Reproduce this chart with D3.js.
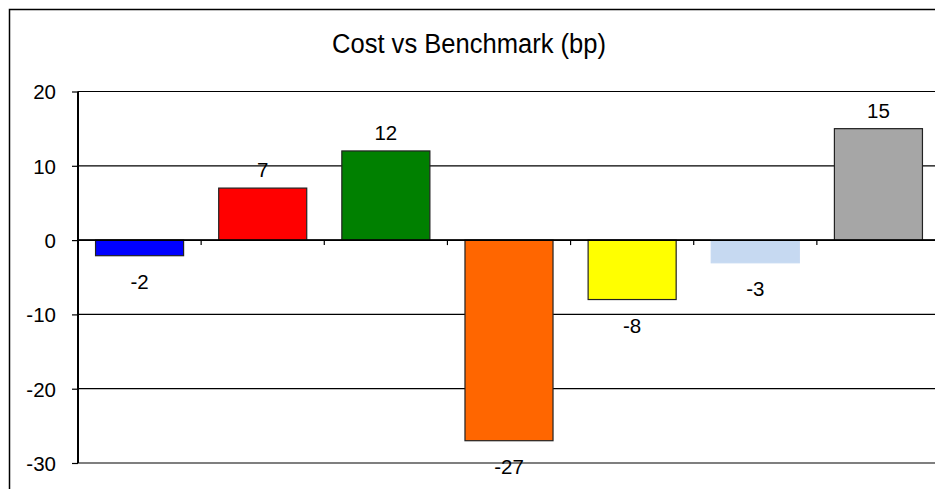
<!DOCTYPE html>
<html><head><meta charset="utf-8">
<script src="https://cdn.jsdelivr.net/npm/d3@7"></script>
<style>body{margin:0;background:#fff}svg{display:block;font-family:"Liberation Sans",Arial,sans-serif}</style>
</head><body>
<svg id="c" width="935" height="489"></svg>
<script>
const categories = ["A","B","C","D","E","F","G"];
const values = [-2.1, 7, 12, -27, -8, -3.05, 15];
const labels = ["-2","7","12","-27","-8","-3","15"];
const colors = ["#0000FF","#FF0000","#008000","#FF6600","#FFFF00","#C6D9F1","#A6A6A6"];
const strokes = ["#222","#222","#222","#222","#222","#C6D9F1","#222"];
const yTicks = [-30,-20,-10,0,10,20];

const svg = d3.select("#c");
const L = 78, R = 940, T = 91.5, B = 463;
const x = d3.scaleBand().domain(categories).range([L, R]).padding(0);
const y = d3.scaleLinear().domain([-30, 20]).range([B, T]);

// outer frame
svg.append("rect").attr("x",9.5).attr("y",9.5).attr("width",960).attr("height",520)
  .attr("fill","none").attr("stroke","#000").attr("stroke-width",1.5);

// title
svg.append("text").attr("x",469).attr("y",53).attr("text-anchor","middle")
  .attr("font-size",27).attr("fill","#000")
  .attr("textLength",274).attr("lengthAdjust","spacingAndGlyphs")
  .text("Cost vs Benchmark (bp)");

// gridlines
svg.append("g").selectAll("line").data(yTicks).join("line")
  .attr("x1",L).attr("x2",R).attr("y1",d=>y(d)).attr("y2",d=>y(d))
  .attr("stroke","#000").attr("stroke-width",1.2);

// y axis
const yAxis = d3.axisLeft(y).tickValues(yTicks).tickSize(6).tickPadding(16).tickFormat(d=>String(d));
const gy = svg.append("g").attr("transform",`translate(${L},0)`).call(yAxis);
gy.select(".domain").attr("stroke","#000").attr("stroke-width",2).attr("d",`M0,${T}V${B}`);
gy.selectAll(".tick line").attr("stroke","#000").attr("stroke-width",1.2);
gy.selectAll(".tick text").attr("font-size",20.5).attr("fill","#000")
  .attr("font-family","Liberation Sans, Arial, sans-serif").attr("dy","0.36em");

// bars
const bw = x.bandwidth()*0.715;
svg.append("g").selectAll("rect").data(values).join("rect")
  .attr("x",(d,i)=>x(categories[i]) + (x.bandwidth()-bw)/2)
  .attr("y",d=>y(Math.max(0,d)))
  .attr("width",bw)
  .attr("height",d=>Math.abs(y(d)-y(0)))
  .attr("fill",(d,i)=>colors[i])
  .attr("stroke",(d,i)=>strokes[i]).attr("stroke-width",1.2);

// zero axis with category ticks
const xAxis = d3.axisBottom(x).tickSize(0).tickFormat("");
const gx = svg.append("g").attr("transform",`translate(0,${y(0)})`).call(xAxis);
gx.select(".domain").attr("stroke","#000").attr("stroke-width",1.6).attr("d",`M${L},0H${R}`);
gx.selectAll(".tick").remove();
gx.selectAll("line.cat").data(categories.slice(1)).join("line").attr("class","cat")
  .attr("x1",d=>x(d)).attr("x2",d=>x(d)).attr("y1",0).attr("y2",5)
  .attr("stroke","#000").attr("stroke-width",1.2);

// value labels
svg.append("g").selectAll("text").data(values).join("text")
  .attr("x",(d,i)=>x(categories[i]) + x.bandwidth()/2)
  .attr("y",d=> d>=0 ? y(d)-11 : y(d)+33)
  .attr("text-anchor","middle").attr("font-size",20.5).attr("fill","#000")
  .text((d,i)=>labels[i]);
</script>
</body></html>
